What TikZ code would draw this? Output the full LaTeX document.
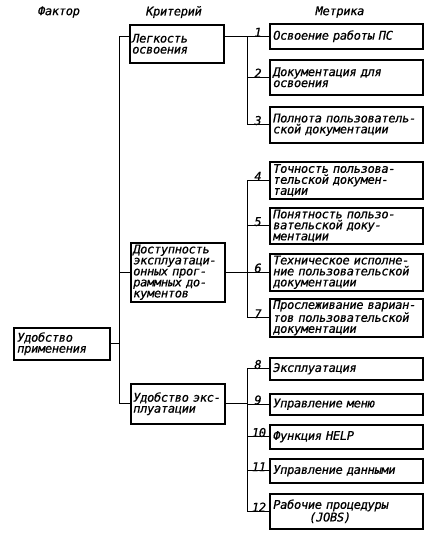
\documentclass[tikz,border=0pt]{standalone}
\usepackage{fontspec}
\setmainfont[LetterSpace=-2.5,FakeBold=0.6]{DejaVu Sans Mono}
\hyphenpenalty=10000
\exhyphenpenalty=10000
\begin{document}
\begin{tikzpicture}[x=1pt,y=-1pt,
  txt/.style={font=\itshape\fontsize{12}{11}\selectfont},
  box/.style={txt,draw,line width=1.5pt,anchor=north west,inner xsep=3.5pt,inner ysep=1pt,align=left},
  mbox/.style={box,text width=146pt},
  cbox/.style={box,inner xsep=2.5pt,text width=89pt},
  num/.style={txt,anchor=south,inner sep=1pt},
  conn/.style={line width=1pt}]
\useasboundingbox (0,0) rectangle (426,536);
% headers
\node[txt] (h1) at (59,12) {Фактор};
\node[txt] (h2) at (174,12) {Критерий};
\node[txt] (h3) at (340,12) {Метрика};
% factor
\node[box,text width=89pt,minimum height=32pt] (f) at (13,327) {Удобство\\применения};
% criteria
\node[cbox,minimum height=38pt] (c1) at (129,24) {Легкость\\освоения\\[4pt]};
\node[cbox,minimum height=59pt] (c2) at (130,242) {Доступность\\эксплуатаци-\\онных прог-\\раммных до-\\кументов};
\node[cbox,minimum height=40pt] (c3) at (130,383) {\mbox{Удобство экс-}\\плуатации};
% metrics
\node[mbox,minimum height=25pt] (m1) at (269,23) {Освоение работы ПС};
\node[mbox,minimum height=35pt] (m2) at (269,59) {Документация для\\освоения};
\node[mbox,minimum height=36pt] (m3) at (269,106) {Полнота пользователь-\\ской документации};
\node[mbox,minimum height=37pt] (m4) at (269,161) {Точность пользова-\\тельской докумен-\\тации};
\node[mbox,minimum height=36pt] (m5) at (269,207) {Понятность пользо-\\вательской доку-\\ментации};
\node[mbox,minimum height=37pt] (m6) at (269,253) {Техническое исполне-\\ние пользовательской\\документации};
\node[mbox,minimum height=38pt] (m7) at (269,298) {\mbox{Прослеживание вариан-}\\тов пользовательской\\документации};
\node[mbox,minimum height=22pt] (m8) at (269,357) {Эксплуатация};
\node[mbox,minimum height=21pt] (m9) at (269,393) {Управление меню};
\node[mbox,minimum height=24pt] (m10) at (269,424) {Функция HELP};
\node[mbox,minimum height=24pt] (m11) at (269,458) {Управление данными};
\node[mbox,minimum height=35pt] (m12) at (269,493) {Рабочие процедуры\\\hspace*{36pt}(JOBS)};
% bus coordinates
\coordinate (a) at (119,0);
\coordinate (b) at (247,0);
% level 1 connectors
\draw[conn] (c1.west |- m1.west) -- (a |- m1.west) -- (a |- c3.west) -- (c3.west);
\draw[conn] (c2.west) -- (a |- c2.west);
\draw[conn] (f.east) -- (a |- f.east);
% group 1
\draw[conn] (c1.east |- m1.west) -- (m1.west);
\draw[conn] (b |- m1.west) -- (b |- m3.west) -- (m3.west);
\draw[conn] (b |- m2.west) -- (m2.west);
% group 2
\draw[conn] (c2.east) -- (b |- c2.east);
\draw[conn] (m4.west) -- (b |- m4.west) -- (b |- m7.west) -- (m7.west);
\draw[conn] (b |- m5.west) -- (m5.west);
\draw[conn] (b |- m6.west) -- (m6.west);
% group 3
\draw[conn] (c3.east) -- (b |- c3.east);
\draw[conn] (m8.west) -- (b |- m8.west) -- (b |- m12.west) -- (m12.west);
\draw[conn] (b |- m9.west) -- (m9.west);
\draw[conn] (b |- m10.west) -- (m10.west);
\draw[conn] (b |- m11.west) -- (m11.west);
% numbers
\node[num] (n1) at ([xshift=-11pt,yshift=-1.5pt]m1.west) {1};
\node[num] (n2) at ([xshift=-11pt,yshift=-1.5pt]m2.west) {2};
\node[num] (n3) at ([xshift=-11pt,yshift=-1.5pt]m3.west) {3};
\node[num] (n4) at ([xshift=-11pt,yshift=-1.5pt]m4.west) {4};
\node[num] (n5) at ([xshift=-11pt,yshift=-1.5pt]m5.west) {5};
\node[num] (n6) at ([xshift=-11pt,yshift=-1.5pt]m6.west) {6};
\node[num] (n7) at ([xshift=-11pt,yshift=-1.5pt]m7.west) {7};
\node[num] (n8) at ([xshift=-11pt,yshift=-1.5pt]m8.west) {8};
\node[num] (n9) at ([xshift=-11pt,yshift=-1.5pt]m9.west) {9};
\node[num] (n10) at ([xshift=-10pt,yshift=-1.5pt]m10.west) {10};
\node[num] (n11) at ([xshift=-10pt,yshift=-1.5pt]m11.west) {11};
\node[num] (n12) at ([xshift=-10pt,yshift=-1.5pt]m12.west) {12};
\end{tikzpicture}
\end{document}
